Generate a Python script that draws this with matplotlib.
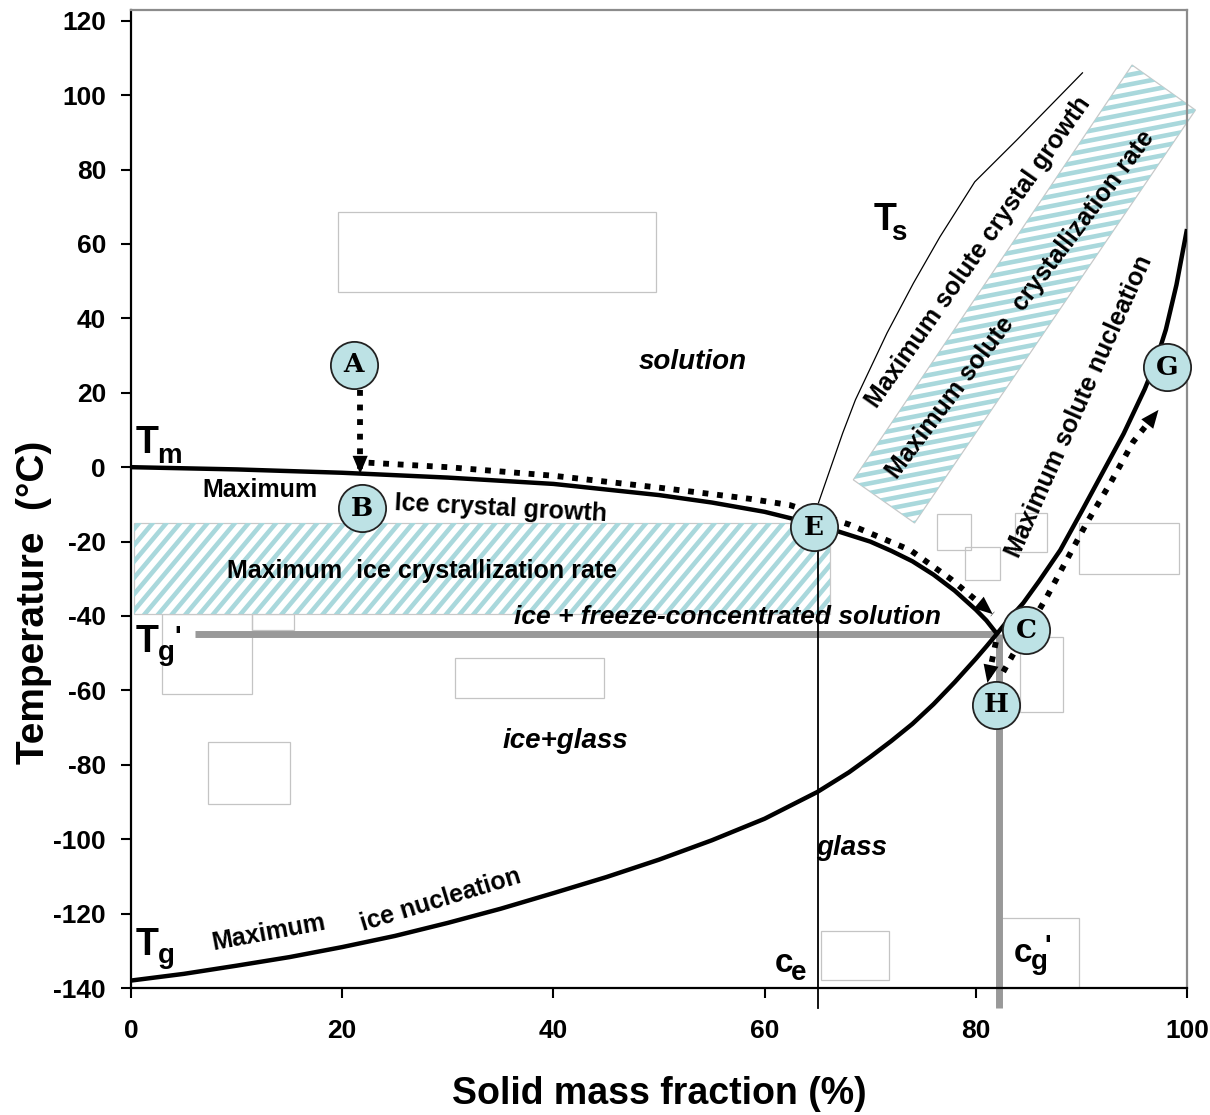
import numpy as np
import matplotlib
matplotlib.use("Agg")
import matplotlib.pyplot as plt
from matplotlib.patches import Polygon
from matplotlib.collections import LineCollection
from matplotlib.transforms import IdentityTransform

plt.rcParams['font.family'] = ['Liberation Sans', 'DejaVu Sans']
plt.rcParams['axes.unicode_minus'] = False

# ---------------- data ----------------
x_ticks = [0, 20, 40, 60, 80, 100]
y_ticks = [120, 100, 80, 60, 40, 20, 0, -20, -40, -60, -80, -100, -120, -140]

# melting curve Tm
tm_x = [0, 10, 20, 30, 40, 50, 55, 60, 65, 70, 72, 74, 76, 78, 80, 81, 82]
tm_y = [0, -0.6, -1.5, -2.8, -4.5, -7.5, -9.5, -12, -15.5, -20, -22.5, -25.3, -28.9,
        -33.2, -38.3, -41.2, -44.8]

# glass transition curve Tg
tg_x = [0, 5, 10, 15, 20, 25, 30, 35, 40, 45, 50, 55, 60, 65, 68, 70, 72, 74, 76, 78,
        80, 81, 82, 83, 84.5, 86, 88, 90, 92, 94, 95, 96, 97, 98, 99, 100]
tg_y = [-138, -136.2, -134, -131.7, -129, -126, -122.5, -118.7, -114.5, -110.2, -105.5,
        -100.3, -94.5, -87.3, -82, -77.9, -73.6, -69, -63.7, -57.8, -51.5, -48.2, -44.8,
        -41.3, -36.5, -30.6, -22.3, -12, -1.5, 9, 15, 21, 28, 37, 49, 64]

# solubility line Ts
ts_x = [65.1, 67.4, 68.6, 71.6, 74.1, 76.6, 79.9, 83.9, 90.1]
ts_y = [-9.6, 9.2, 18.1, 36.1, 49.5, 61.9, 76.7, 88.0, 106.0]

# characteristic concentrations / temperatures
c_e = 65.1
c_g_prime = 82.2
T_g_prime = -44.8
ce_line_top = -22.0
line_bottom = -145.4
tg_prime_line_start = 6.1

# process path (dotted arrows)
ab_x = [21.7, 21.7]
ab_y = [20.8, -1.8]
bc_x = [22.5, 30, 40, 50, 58.6, 62.4, 68.1, 73.8, 77.6, 81.6]
bc_y = [1.2, 0, -2.3, -5.5, -8.5, -10.2, -15.5, -22.3, -30, -39.5]
ch_x = [81.9, 81.1]
ch_y = [-47.0, -58.0]
hg_x = [82.6, 84.0, 86.7, 88.5, 90.5, 92.8, 94.9, 97.3]
hg_y = [-55, -48, -35, -25.5, -15, -4, 6.8, 15.4]

# labelled points
point_names = ['A', 'B', 'E', 'C', 'H', 'G']
point_x = [21.1, 21.9, 64.7, 84.8, 81.9, 98.1]
point_y = [27.5, -11.0, -16.1, -43.8, -63.9, 26.9]

# hatched regions
ice_rate_x = [0.3, 66.2]
ice_rate_y = [-39.5, -15.0]
solute_rate_x = [68.4, 94.8, 100.8, 74.2]
solute_rate_y = [-3.4, 108.1, 96.0, -15.0]

# empty text frames (x0, x1, y0, y1)
frames = [
    (19.6, 49.7, 47.1, 68.6),
    (2.9, 11.5, -61.0, -39.5),
    (11.5, 15.4, -43.8, -39.5),
    (30.7, 44.8, -62.0, -51.3),
    (7.3, 15.1, -90.5, -73.9),
    (65.3, 71.8, -137.8, -124.7),
    (82.4, 89.8, -140.0, -121.2),
    (84.2, 88.3, -65.8, -45.6),
    (76.3, 79.5, -22.3, -12.6),
    (79.0, 82.3, -30.3, -21.4),
    (83.7, 86.7, -22.8, -12.3),
    (89.8, 99.2, -28.7, -15.0),
]

STRIPE = '#a9d8dc'
CIRCLE = '#bde2e5'
GREY = '#999999'

fig = plt.figure(figsize=(12.1, 11.15), dpi=100)
ax = fig.add_axes([131 / 1210, 127 / 1115, 1056 / 1210, 978.4 / 1115])
ax.set_xlim(0, 100)
ax.set_ylim(-140, 123)
ax.set_xticks(x_ticks)
ax.set_yticks(y_ticks)
ax.tick_params(direction='out', length=7, width=1.5, labelsize=19)
ax.tick_params(axis='x', pad=15)
ax.tick_params(axis='y', pad=11)
for lab in ax.get_xticklabels() + ax.get_yticklabels():
    lab.set_fontweight('bold')
for s in ['left', 'bottom']:
    ax.spines[s].set_color('black')
    ax.spines[s].set_linewidth(1.6)
for s in ['top', 'right']:
    ax.spines[s].set_color('#8c8c8c')
    ax.spines[s].set_linewidth(1.6)

ax.set_xlabel('Solid mass fraction (%)', fontsize=27, fontweight='bold')
ax.xaxis.set_label_coords(0.5, -0.09)
ax.set_ylabel('Temperature  (°C)', fontsize=28, fontweight='bold')
ax.yaxis.set_label_coords(-0.075, 0.394)


def stripes(patch, angle_deg, spacing_px, lw_pt, color):
    verts = patch.get_verts()
    a = np.deg2rad(angle_deg)
    d = np.array([np.cos(a), np.sin(a)])
    n = np.array([-np.sin(a), np.cos(a)])
    proj = verts @ n
    diag = np.hypot(np.ptp(verts[:, 0]), np.ptp(verts[:, 1]))
    c0 = verts.mean(axis=0)
    segs = []
    for t in np.arange(proj.min() - spacing_px, proj.max() + spacing_px, spacing_px):
        base = c0 + n * (t - c0 @ n)
        segs.append([base - d * diag, base + d * diag])
    lc = LineCollection(segs, colors=color, linewidths=lw_pt,
                        transform=IdentityTransform(), zorder=1.2)
    ax.add_collection(lc, autolim=False)
    lc.set_clip_box(None)
    lc.set_clip_path(patch)


# empty frames
for x0, x1, y0, y1 in frames:
    ax.add_patch(Polygon([(x0, y0), (x1, y0), (x1, y1), (x0, y1)], closed=True,
                         fc='none', ec='#c4c4c4', lw=0.9, zorder=0.8, clip_on=False))

# hatched rectangles
p1 = Polygon([(ice_rate_x[0], ice_rate_y[0]), (ice_rate_x[1], ice_rate_y[0]),
              (ice_rate_x[1], ice_rate_y[1]), (ice_rate_x[0], ice_rate_y[1])],
             closed=True, fc='white', ec='#c8c8c8', lw=0.9, zorder=1)
ax.add_patch(p1)
p2 = Polygon(list(zip(solute_rate_x, solute_rate_y)), closed=True, fc='white',
             ec='#c8c8c8', lw=0.9, zorder=1, clip_on=False)
ax.add_patch(p2)
stripes(p1, 50, 10.5, 3.3, STRIPE)
stripes(p2, 11, 9.5, 3.3, STRIPE)

# curves
ax.plot(tm_x, tm_y, color='black', lw=3.2, zorder=3, solid_capstyle='butt',
        solid_joinstyle='round')
ax.plot(tg_x, tg_y, color='black', lw=3.2, zorder=3, solid_capstyle='butt',
        solid_joinstyle='round')
ax.plot(ts_x, ts_y, color='black', lw=0.9, zorder=3)
ax.plot([c_e, c_e], [ce_line_top, line_bottom], color='black', lw=1.3, zorder=3, clip_on=False)

# grey Tg' / Cg' lines
ax.plot([tg_prime_line_start, c_g_prime], [T_g_prime, T_g_prime], color=GREY, lw=5,
        zorder=2.5, solid_capstyle='butt')
ax.plot([c_g_prime, c_g_prime], [T_g_prime, line_bottom], color=GREY, lw=5,
        zorder=2.5, solid_capstyle='butt', clip_on=False)


def dotted_arrow(xs, ys):
    ax.plot(xs, ys, color='black', lw=4.2, ls=(0, (1, 1.5)), dash_capstyle='butt',
            zorder=4)
    ax.annotate('', xy=(xs[-1], ys[-1]), xytext=(xs[-2], ys[-2]),
                arrowprops=dict(arrowstyle='-|>,head_length=1.0,head_width=0.42',
                                mutation_scale=13, color='black', lw=0,
                                shrinkA=0, shrinkB=0), zorder=4)


dotted_arrow(ab_x, ab_y)
dotted_arrow(bc_x, bc_y)
dotted_arrow(ch_x, ch_y)
dotted_arrow(hg_x, hg_y)

# labelled circles
ax.plot(point_x, point_y, ls='none', marker='o', ms=34, mfc=CIRCLE, mec='#222222',
        mew=1.3, zorder=5, clip_on=False)
for name, px, py in zip(point_names, point_x, point_y):
    ax.text(px, py, name, fontsize=19, fontweight='bold', family='DejaVu Serif',
            ha='center', va='center', zorder=6)


def sub_label(x, y, main, sub, size, subsize, dx, dy, prime=None):
    ax.text(x, y, main, fontsize=size, fontweight='bold', ha='left', va='baseline', zorder=6)
    ax.annotate(sub, xy=(x, y), xytext=(dx, dy), textcoords='offset points',
                fontsize=subsize, fontweight='bold', ha='left', va='baseline', zorder=6)
    if prime is not None:
        ax.annotate("'", xy=(x, y), xytext=prime, textcoords='offset points',
                    fontsize=subsize, fontweight='bold', ha='left', va='baseline', zorder=6)


sub_label(0.4, 3.8, 'T', 'm', 27, 20, 16, -7)
sub_label(0.4, -49.7, 'T', 'g', 27, 20, 16, -6, prime=(28, 5))
sub_label(0.4, -131.1, 'T', 'g', 27, 20, 16, -6)
sub_label(70.3, 63.8, 'T', 's', 27, 20, 13, -7)
sub_label(61.0, -135.7, 'c', 'e', 24, 20, 11, -6)
sub_label(83.6, -133.0, 'c', 'g', 24, 20, 12, -5, prime=(22, 6))

# region labels
region_text = [
    ('solution', 53.2, 28.3, 20, 'italic', 0),
    ('ice + freeze-concentrated solution', 56.5, -40.3, 19, 'italic', 0),
    ('ice+glass', 41.1, -73.6, 20, 'italic', 0),
    ('glass', 68.2, -102.4, 20, 'italic', 0),
    ('Maximum', 12.2, -6.1, 18, 'normal', 0),
    ('Ice crystal growth', 35.0, -11.0, 18, 'normal', -3),
    ('Maximum  ice crystallization rate', 27.6, -27.9, 18, 'normal', 0),
    ('Maximum solute crystal growth', 80.2, 57.7, 18, 'normal', 55),
    ('Maximum solute  crystallization rate', 84.2, 43.6, 18, 'normal', 53),
    ('Maximum solute nucleation', 89.8, 16.2, 18, 'normal', 66),
    ('Maximum', 13.0, -125.2, 18, 'normal', 10.5),
    ('ice nucleation', 29.3, -116.3, 18, 'normal', 17),
]
for s, x, y, size, style, rot in region_text:
    ax.text(x, y, s, fontsize=size, fontstyle=style, fontweight='bold', rotation=rot,
            ha='center', va='center', rotation_mode='anchor', zorder=6)

fig.savefig('out.png', dpi=100)
